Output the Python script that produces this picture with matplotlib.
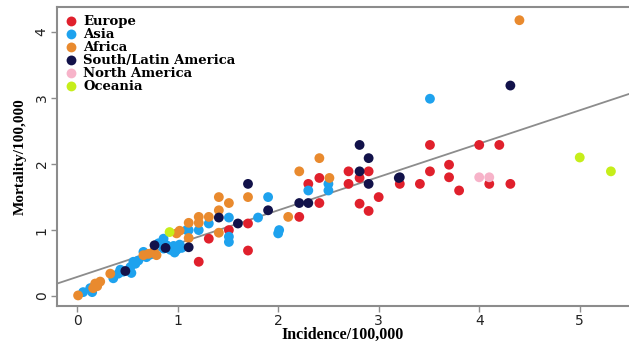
import matplotlib
matplotlib.use("Agg")
import matplotlib.pyplot as plt

# points (incidence, mortality per 100,000)
europe_x = [3.51, 4.00, 4.20, 3.70, 3.51, 3.70, 3.21, 3.41, 3.80, 4.10, 4.31, 3.00, 2.81, 2.90,
            2.70, 2.90, 2.81, 2.41, 2.30, 2.70, 2.41, 2.21, 1.70, 1.51, 1.31, 1.70, 1.21]
europe_y = [2.29, 2.29, 2.29, 1.99, 1.89, 1.80, 1.70, 1.70, 1.60, 1.70, 1.70, 1.50, 1.40, 1.29,
            1.89, 1.89, 1.79, 1.79, 1.70, 1.70, 1.41, 1.20, 1.10, 1.00, 0.87, 0.69, 0.52]

asia_x = [3.51, 2.50, 2.50, 2.30, 1.90, 1.51, 1.80, 1.31, 1.21, 1.11, 1.51, 1.51, 2.00, 2.01,
          1.09, 0.86, 0.89, 0.81, 0.86, 0.93, 0.96, 0.99, 1.02, 1.04, 0.97, 0.73, 0.66, 0.69,
          0.61, 0.58, 0.56, 0.53, 0.54, 0.46, 0.41, 0.36, 0.43, 0.13, 0.06, 0.15]
asia_y = [2.99, 1.70, 1.60, 1.60, 1.50, 1.19, 1.19, 1.10, 1.00, 1.00, 0.90, 0.82, 0.95, 1.00,
          1.00, 0.87, 0.77, 0.80, 0.72, 0.70, 0.76, 0.70, 0.78, 0.73, 0.66, 0.63, 0.67, 0.59,
          0.54, 0.49, 0.52, 0.44, 0.35, 0.37, 0.34, 0.27, 0.40, 0.12, 0.06, 0.06]

africa_x = [4.40, 2.41, 2.21, 2.51, 2.10, 1.41, 1.70, 1.51, 1.41, 1.21, 1.31, 1.21, 1.11, 1.11,
            1.41, 0.99, 1.02, 0.79, 0.76, 0.71, 0.66, 0.33, 0.23, 0.18, 0.20, 0.01, 0.16]
africa_y = [4.18, 2.09, 1.89, 1.79, 1.20, 1.50, 1.50, 1.41, 1.30, 1.20, 1.20, 1.11, 1.11, 0.88,
            0.96, 0.95, 0.99, 0.62, 0.67, 0.64, 0.62, 0.34, 0.22, 0.19, 0.15, 0.01, 0.12]

latam_x = [4.31, 3.21, 2.81, 2.90, 2.81, 2.90, 3.20, 2.21, 2.30, 1.70, 1.90, 1.41, 1.60, 1.11,
           0.77, 0.88, 0.48]
latam_y = [3.19, 1.80, 2.29, 2.09, 1.89, 1.70, 1.79, 1.41, 1.41, 1.70, 1.30, 1.19, 1.10, 0.74,
           0.77, 0.73, 0.38]

namerica_x = [4.00, 4.10]
namerica_y = [1.80, 1.80]

oceania_x = [5.00, 5.31, 0.92]
oceania_y = [2.10, 1.89, 0.97]

# fitted line as drawn
line_intercept = 0.29
line_slope = 0.505

groups = [
    ("Europe", europe_x, europe_y, "#e0202c"),
    ("Asia", asia_x, asia_y, "#1ea2ee"),
    ("Africa", africa_x, africa_y, "#e98a2e"),
    ("South/Latin America", latam_x, latam_y, "#12124a"),
    ("North America", namerica_x, namerica_y, "#f7b3c9"),
    ("Oceania", oceania_x, oceania_y, "#c6ee1a"),
]

fig = plt.figure(figsize=(6.29, 3.43), dpi=100)
ax = fig.add_axes([0.0906, 0.1079, 0.9094, 0.8717])

for name, xs, ys, col in groups:
    ax.scatter(xs, ys, s=50, color=col, edgecolors="none", label=name, zorder=3)

ax.axline((0, line_intercept), slope=line_slope, color="#8c8c8c", lw=1.3, zorder=2)

ax.set_xlim(-0.2, 5.49)
ax.set_ylim(-0.15, 4.38)
ax.set_xticks([0, 1, 2, 3, 4, 5])
ax.set_yticks([0, 1, 2, 3, 4])

for side in ["top", "left", "bottom"]:
    ax.spines[side].set_color("#8c8c8c")
    ax.spines[side].set_linewidth(1.5)
ax.spines["right"].set_visible(False)

ax.tick_params(axis="both", colors="#8c8c8c", length=4, width=1, labelsize=10,
               labelcolor="#222222", pad=2)
for lab in ax.get_yticklabels():
    lab.set_rotation(90)
    lab.set_va("center")

ax.set_xlabel("Incidence/100,000", family="Liberation Serif", fontweight="bold",
              fontsize=11.5, labelpad=-1)
ax.set_ylabel("Mortality/100,000", family="Liberation Serif", fontweight="bold",
              fontsize=11, labelpad=6)

leg = ax.legend(loc="upper left", frameon=False, prop={"family": "DejaVu Serif",
                "weight": "bold", "size": 9.5}, handletextpad=0.4, labelspacing=0.0,
                borderaxespad=0.2, markerscale=1.0, handlelength=1.0)

fig.savefig("out.png", dpi=100)
